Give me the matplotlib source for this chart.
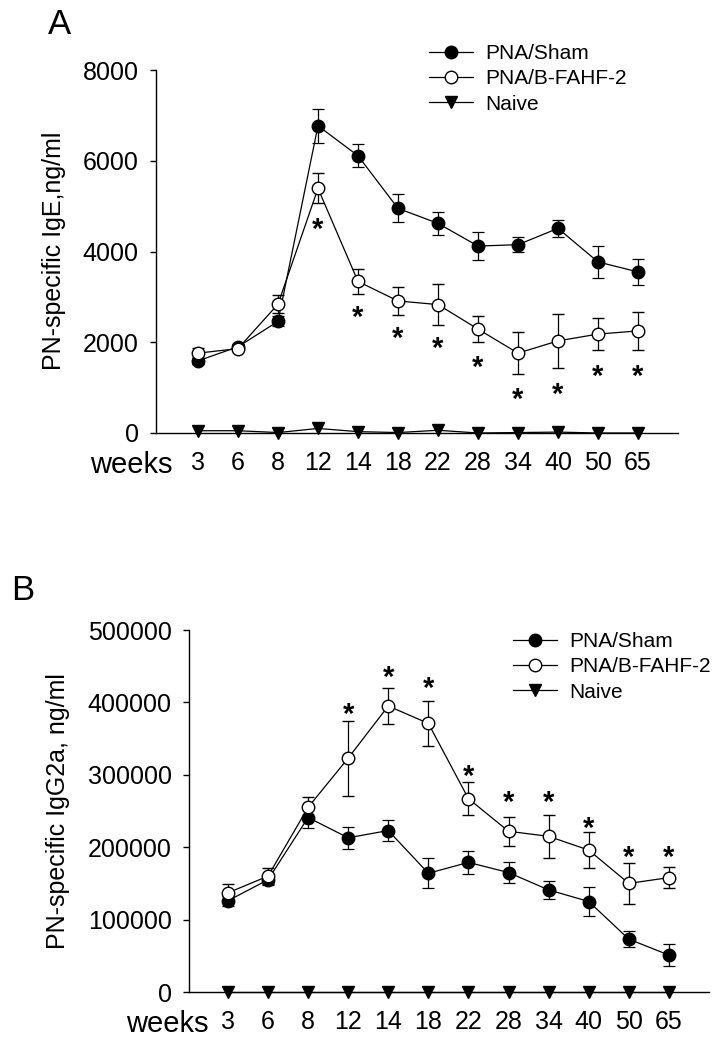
import numpy as np
import matplotlib
matplotlib.use("Agg")
import matplotlib.pyplot as plt
from matplotlib.lines import Line2D

plt.rcParams['font.family'] = ['Liberation Sans', 'DejaVu Sans']

weeks = ['3', '6', '8', '12', '14', '18', '22', '28', '34', '40', '50', '65']
series_names = ['PNA/Sham', 'PNA/B-FAHF-2', 'Naive']

# panel A: IgE
ige_sham = [1590, 1900, 2460, 6770, 6110, 4950, 4620, 4120, 4150, 4510, 3770, 3550]
ige_sham_err = [60, 60, 110, 370, 250, 310, 260, 300, 170, 180, 345, 280]
ige_fahf = [1760, 1860, 2840, 5390, 3340, 2910, 2830, 2290, 1760, 2030, 2180, 2250]
ige_fahf_err = [110, 60, 200, 330, 270, 300, 455, 280, 455, 590, 350, 410]
ige_naive = [50, 50, 10, 100, 30, 10, 60, 0, 10, 20, 0, 0]
ige_star_idx = [3, 4, 5, 6, 7, 8, 9, 10, 11]
ige_star_y = [4660, 2730, 2275, 2040, 1615, 917, 1027, 1431, 1431]

# panel B: IgG2a
igg_sham = [126000, 155000, 241000, 213000, 223000, 164000, 179000, 165000, 141000, 125000, 73000, 51000]
igg_sham_err = [7000, 7000, 15000, 15000, 15000, 21000, 16000, 15000, 12000, 20000, 11000, 15000]
igg_fahf = [137000, 160000, 255000, 323000, 395000, 371000, 267000, 222000, 215000, 196000, 150000, 158000]
igg_fahf_err = [12000, 11000, 15000, 52000, 25000, 31000, 23000, 20000, 30000, 25000, 28000, 15000]
igg_naive = [0] * 12
igg_star_idx = [3, 4, 5, 6, 7, 8, 9, 10, 11]
igg_star_y = [394000, 446000, 430000, 309000, 272600, 272600, 236700, 197000, 197000]

W, H = 715, 1050
fig = plt.figure(figsize=(W / 100, H / 100), dpi=100)


def px_axes(x0, y0, x1, y1):
    return fig.add_axes([x0 / W, 1 - y1 / H, (x1 - x0) / W, (y1 - y0) / H])


def draw_panel(ax, sham, sham_err, fahf, fahf_err, naive, star_idx, star_y,
               ymax, ystep, xmin, weeks_x, leg_xy):
    x = np.arange(len(weeks))
    ax.errorbar(x, sham, yerr=sham_err, color='black', lw=0.9, elinewidth=0.9,
                capsize=4, capthick=0.9, marker='o', ms=9, mfc='black',
                mec='black', zorder=3)
    ax.errorbar(x, fahf, yerr=fahf_err, color='black', lw=0.9, elinewidth=0.9,
                capsize=4, capthick=0.9, marker='o', ms=9, mfc='white',
                mec='black', mew=1, zorder=4)
    ax.plot(x, naive, color='black', lw=0.9, marker='v', ms=9, mfc='black',
            mec='black', zorder=5, clip_on=False)
    # significance stars
    for i, y in zip(star_idx, star_y):
        ax.annotate('*', xy=(x[i], y), xytext=(0, -12), textcoords='offset points',
                    ha='center', va='baseline', fontsize=21, fontweight='bold')

    ax.set_xlim(xmin, 12)
    ax.set_ylim(0, ymax)
    ax.set_yticks(np.arange(0, ymax + 1, ystep))
    ax.set_xticks(x)
    ax.set_xticklabels(weeks)
    ax.tick_params(axis='x', length=0, pad=13, labelsize=18)
    ax.tick_params(axis='y', length=4, width=1, pad=8.5, labelsize=18, direction='out')
    for s in ['top', 'right']:
        ax.spines[s].set_visible(False)
    for s in ['left', 'bottom']:
        ax.spines[s].set_linewidth(1)
    ax.annotate('weeks', xy=(weeks_x, 0), xytext=(0, -28.5), textcoords='offset points',
                ha='center', va='baseline', fontsize=21, annotation_clip=False)

    handles = [
        Line2D([], [], color='black', lw=0.9, marker='o', ms=9, mfc='black', mec='black'),
        Line2D([], [], color='black', lw=0.9, marker='o', ms=9, mfc='white', mec='black'),
        Line2D([], [], color='black', lw=0.9, marker='v', ms=9, mfc='black', mec='black'),
    ]
    ax.legend(handles, series_names, loc='upper left',
              bbox_to_anchor=(leg_xy[0] / W, 1 - leg_xy[1] / H),
              bbox_transform=fig.transFigure, frameon=False, fontsize=15,
              handlelength=2.1, handletextpad=0.6, labelspacing=0.3,
              borderpad=0, borderaxespad=0, numpoints=1)


axA = px_axes(156, 70, 678, 433)
draw_panel(axA, ige_sham, ige_sham_err, ige_fahf, ige_fahf_err, ige_naive,
           ige_star_idx, ige_star_y, 8000, 2000, -1.05, -1.67, (429, 44))
fig.text(54 / W, 1 - 251 / H, 'PN-specific IgE,ng/ml', rotation=90,
         ha='center', va='center', fontsize=18)
fig.text(60 / W, 1 - 25 / H, 'A', ha='center', va='center', fontsize=25)

axB = px_axes(189, 630, 709, 992)
draw_panel(axB, igg_sham, igg_sham_err, igg_fahf, igg_fahf_err, igg_naive,
           igg_star_idx, igg_star_y, 500000, 100000, -0.97, -1.5, (513, 632))
fig.text(58 / W, 1 - 811 / H, 'PN-specific IgG2a, ng/ml', rotation=90,
         ha='center', va='center', fontsize=18)
fig.text(23 / W, 1 - 591 / H, 'B', ha='center', va='center', fontsize=25)

fig.savefig('out.png', dpi=100)
